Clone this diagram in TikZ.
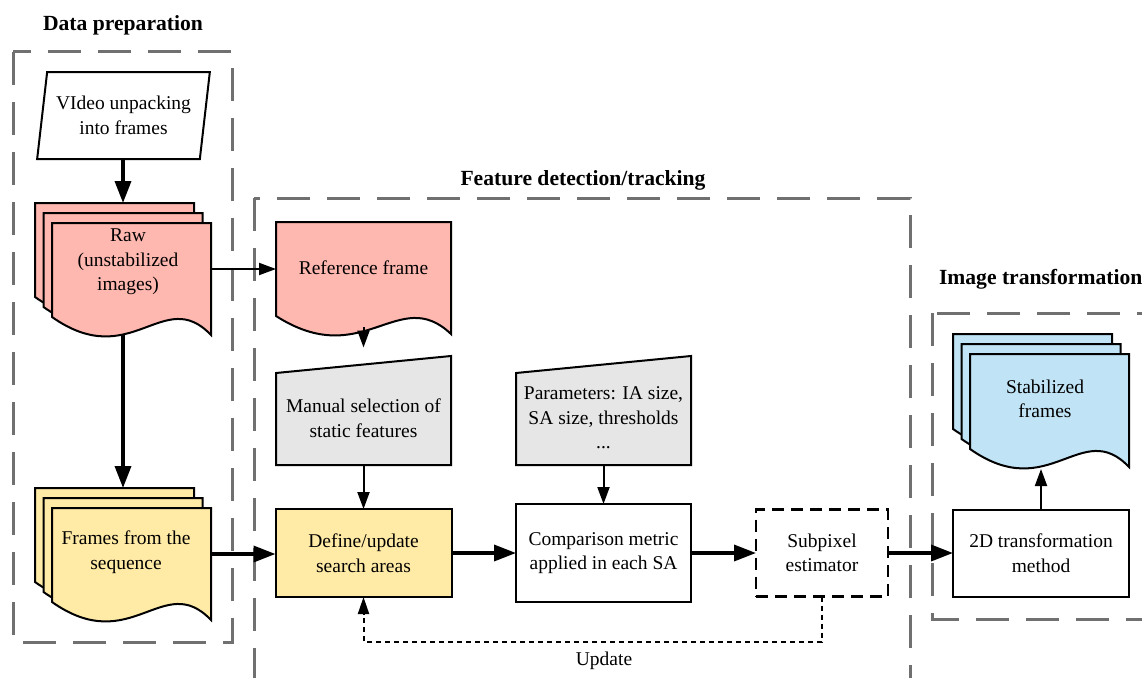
\documentclass[tikz,border=0pt]{standalone}
\usepackage{fontspec}
\setmainfont{Liberation Serif}
\usetikzlibrary{calc,shapes.geometric,arrows.meta}

\definecolor{rawred}{HTML}{FFB8B0}
\definecolor{seqyellow}{HTML}{FFEBA6}
\definecolor{stabblue}{HTML}{C0E3F5}
\definecolor{inputgray}{HTML}{E6E6E6}
\definecolor{groupgray}{HTML}{707070}

\tikzset{
  every node/.style={font=\fontsize{19.5}{24.5}\selectfont, align=center, inner sep=0pt, outer sep=0pt},
  title/.style={font=\bfseries\fontsize{21.6}{26}\selectfont},
  group/.style={draw=groupgray, line width=3pt, dash pattern=on 33pt off 17pt},
  sized/.style 2 args={minimum width=#1, minimum height=#2},
  sheet/.style={draw, line width=2pt},
  thick arrow/.style={line width=3.5pt, -{Triangle[length=22pt,width=16pt]}},
  thin arrow/.style={line width=2pt, -{Triangle[length=17pt,width=12pt]}},
  feedback/.style={line width=2pt, dash pattern=on 5pt off 4pt, -{Triangle[length=17pt,width=11pt]}},
}

% document sheet, #1 node, #2 shift top left, #3 shift bottom right, #4 fill
\newcommand{\docsheet}[4]{%
  \coordinate (dtl) at ($(#1.north west)+(#2)$);
  \coordinate (dbr) at ($(#1.south east)+(#3)$);
  \filldraw[sheet, fill=#4] (dtl) -- (dtl -| dbr) -- (dbr)
    .. controls ($(dtl |- dbr)!0.7!(dbr)+(0,-50)$) and ($(dtl |- dbr)!0.5!(dbr)+(0,38)$) ..
    ($(dtl |- dbr)+(0,-18)$) -- cycle;
}
% manual input, #1 node, #2 fill
\newcommand{\manualsheet}[2]{%
  \filldraw[sheet, fill=#2] (#1.south west) -- ($(#1.north west)+(0,17)$) -- (#1.north east) -- (#1.south east) -- cycle;
}

\begin{document}
\begin{tikzpicture}[x=1pt,y=-1pt]
\clip (0,0) rectangle (1142,677);

% groups
\draw[group] (13,52) rectangle (232,642);
\draw[group] (254,198) rectangle (910,720);
\draw[group] (932,313) rectangle (1170,619);
\node[title] (prepT) at (123,25) {Data preparation};
\node[title] (trackT) at (583,180) {Feature detection/tracking};
\node[title, anchor=west] (transT) at (939,279) {Image transformation};

% data preparation
\node[sized={173pt}{87pt}, sheet, shape=trapezium, trapezium left angle=77, trapezium right angle=103,
  trapezium stretches=true] (video) at (123.5,115.5) {VIdeo unpacking\\into frames};

\node[sized={176pt}{132pt}] (raw) at (123,269) {};
\docsheet{raw}{0,0}{-17,-20}{rawred}
\docsheet{raw}{8.5,10}{-8.5,-10}{rawred}
\docsheet{raw}{17,20}{0,0}{rawred}
\node (rawT) at (128,262) {Raw\\(unstabilized\\images)};

\node[sized={176pt}{132pt}] (seq) at (123,554) {};
\docsheet{seq}{0,0}{-17,-20}{seqyellow}
\docsheet{seq}{8.5,10}{-8.5,-10}{seqyellow}
\docsheet{seq}{17,20}{0,0}{seqyellow}
\node (seqT) at (126,552) {Frames from the\\sequence};

% feature detection/tracking
\node[sized={175pt}{112pt}] (ref) at (363.5,278) {};
\docsheet{ref}{0,0}{0,0}{rawred}
\node (refT) at (363.5,268) {Reference frame};

\node[sized={175pt}{109pt}] (manual) at (363.5,410.5) {};
\manualsheet{manual}{inputgray}
\node (manualT) at (363.5,418) {Manual selection of\\static features};

\node[sized={175pt}{109pt}] (params) at (603.5,410.5) {};
\manualsheet{params}{inputgray}
\node (paramsT) at (603.5,418) {Parameters: IA size,\\SA size, thresholds\\...};

\node[sized={176pt}{88pt}, sheet, fill=seqyellow] (define) at (363.5,553) {Define/update\\search areas};
\node[sized={175pt}{98pt}, sheet] (comp) at (603.5,553) {Comparison metric\\applied in each SA};
\node[sized={132pt}{87pt}, sheet, line width=2.3pt, dash pattern=on 12pt off 7pt] (sub) at (822,553) {Subpixel\\estimator};

% image transformation
\node[sized={176pt}{133pt}] (stab) at (1041,400.5) {};
\docsheet{stab}{0,0}{-17,-20}{stabblue}
\docsheet{stab}{8.5,10}{-8.5,-10}{stabblue}
\docsheet{stab}{17,20}{0,0}{stabblue}
\node (stabT) at (1045,399) {Stabilized\\frames};

\node[sized={176pt}{87pt}, sheet] (tr2d) at (1041,553) {2D transformation\\method};

% connectors
\draw[thick arrow] (video.south -| raw.north) -- (raw.north);
\draw[thick arrow] (raw.south) -- (seq.north);
\draw[thin arrow] (raw.east) -- (raw.east -| ref.west);
\draw[thin arrow, shorten <=7pt, shorten >=8.5pt] (ref.south) -- (manual.north);
\draw[thin arrow] (manual.south) -- (define.north);
\draw[thin arrow] (params.south) -- (comp.north);
\draw[thick arrow] (seq.east) -- (seq.east -| define.west);
\draw[thick arrow] (define.east) -- (comp.west);
\draw[thick arrow] (comp.east) -- (sub.west);
\draw[thick arrow] (sub.east) -- (tr2d.west);
\draw[thin arrow, shorten >=2pt] (tr2d.north) -- (stab.south);
\draw[feedback] (sub.south) -- ++(0,45) coordinate (fbR) -- (fbR -| define.south) coordinate (fbL) -- (define.south);
\node (update) at (604,661) {Update};

\end{tikzpicture}
\end{document}
